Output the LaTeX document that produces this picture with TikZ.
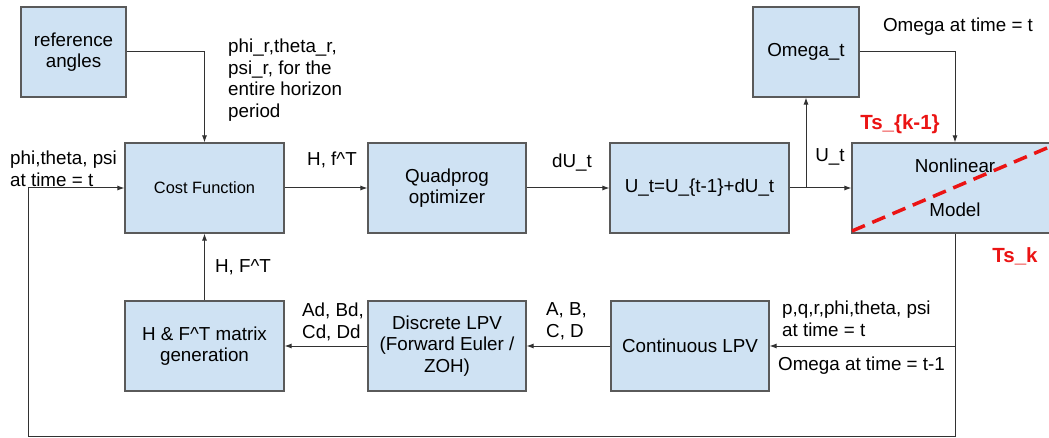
\documentclass[tikz,border=0pt]{standalone}
\usepackage{fontspec}
\setmainfont{Liberation Sans}
\usetikzlibrary{arrows.meta}
\definecolor{boxfill}{RGB}{207,226,243}
\definecolor{boxline}{RGB}{90,90,90}
\definecolor{wire}{RGB}{50,50,50}
\definecolor{tsred}{RGB}{235,20,20}
\begin{document}
\begin{tikzpicture}[x=1pt,y=-1pt,
  blk/.style={draw=boxline,fill=boxfill,line width=1.1pt,inner sep=0pt,minimum height=90pt,align=center,font=\fontsize{18.8}{21.5}\selectfont},
  lbl/.style={inner sep=0pt,font=\fontsize{18.8}{21.5}\selectfont},
  lbll/.style={lbl,align=left,anchor=west},
  wirearrow/.style={draw=wire,line width=1pt,-{Latex[length=7pt,width=5pt]}},
  wireline/.style={draw=wire,line width=1pt},
  redlbl/.style={inner sep=0pt,text=tsred,font=\fontsize{20.5}{24}\selectfont\bfseries},
  reddash/.style={draw=tsred,line width=3.5pt,dash pattern=on 14pt off 8pt}]
\useasboundingbox (0,0) rectangle (1049,438);
\clip (0,0) rectangle (1049,438);
\fill[white] (0,0) rectangle (1049,438);

% blocks
\node[blk,minimum width=105pt] (ref) at (73.5,52) {reference\\angles};
\node[blk,minimum width=159pt,font=\fontsize{16.4}{20}\selectfont] (cost) at (204.5,188) {Cost Function};
\node[blk,minimum width=158pt] (quad) at (447,188) {Quadprog\\optimizer};
\node[blk,minimum width=179pt] (ut) at (699.5,188) {U\_t=U\_\{t-1\}+dU\_t};
\node[blk,minimum width=106pt] (omega) at (806,52) {Omega\_t};
\node[blk,minimum width=206pt] (nl) at (955,188) {Nonlinear\\[23pt]Model};
\node[blk,minimum width=159pt] (hf) at (204.5,346) {H \& F\textasciicircum T matrix\\generation};
\node[blk,minimum width=158pt] (disc) at (447,346) {Discrete LPV\\(Forward Euler /\\ZOH)};
\node[blk,minimum width=158pt] (cont) at (690,346) {Continuous LPV};

% red dashed split of the nonlinear model
\coordinate (d1) at (852,231);
\coordinate (d2) at (1054,145);
\draw[reddash] (d1) -- (d2);

% connectors
\draw[wirearrow] (ref.east) -| (cost.north);
\draw[wirearrow] (cost.east) -- (quad.west);
\draw[wirearrow] (quad.east) -- (ut.west);
\coordinate (ubr) at (ut.east -| omega.south);
\draw[wirearrow] (ut.east) -- (nl.west);
\draw[wirearrow] (ubr) -- (omega.south);
\draw[wirearrow] (omega.east) -| (nl.north);
\coordinate (fbr) at (955,436);
\coordinate (fbl) at (28,436);
\coordinate (fbt) at (28,188);
\draw[wirearrow] (nl.south) -- (fbr) -- (fbl) -- (fbt) -- (cost.west);
\coordinate (cbr) at (nl.south |- cont.east);
\draw[wirearrow] (cbr) -- (cont.east);
\draw[wirearrow] (cont.west) -- (disc.east);
\draw[wirearrow] (disc.west) -- (hf.east);
\draw[wirearrow] (hf.north) -- (cost.south);

% labels
\node[lbll] (lref) at (228,80) {phi\_r,theta\_r,\\psi\_r, for the\\entire horizon\\period};
\node[lbll] (lang) at (10,169) {phi,theta, psi\\at time = t};
\node[lbl] (lhf) at (332,160) {H, f\textasciicircum T};
\node[lbl] (ldu) at (572,163) {dU\_t};
\node[lbl] (lu) at (830,157) {U\_t};
\node[lbl] (lom) at (958,27) {Omega at time = t};
\node[redlbl] (tk1) at (900,124) {Ts\_\{k-1\}};
\node[redlbl] (tk) at (1015,256) {Ts\_k};
\node[lbl] (lHF) at (243,267) {H, F\textasciicircum T};
\node[lbll] (lad) at (302,322) {Ad, Bd,\\Cd, Dd};
\node[lbll] (lab) at (546,321) {A, B,\\C, D};
\node[lbll] (lpq) at (782,319) {p,q,r,phi,theta, psi\\at time = t};
\node[lbll] (lomm) at (778,366) {Omega at time = t-1};
\end{tikzpicture}
\end{document}
